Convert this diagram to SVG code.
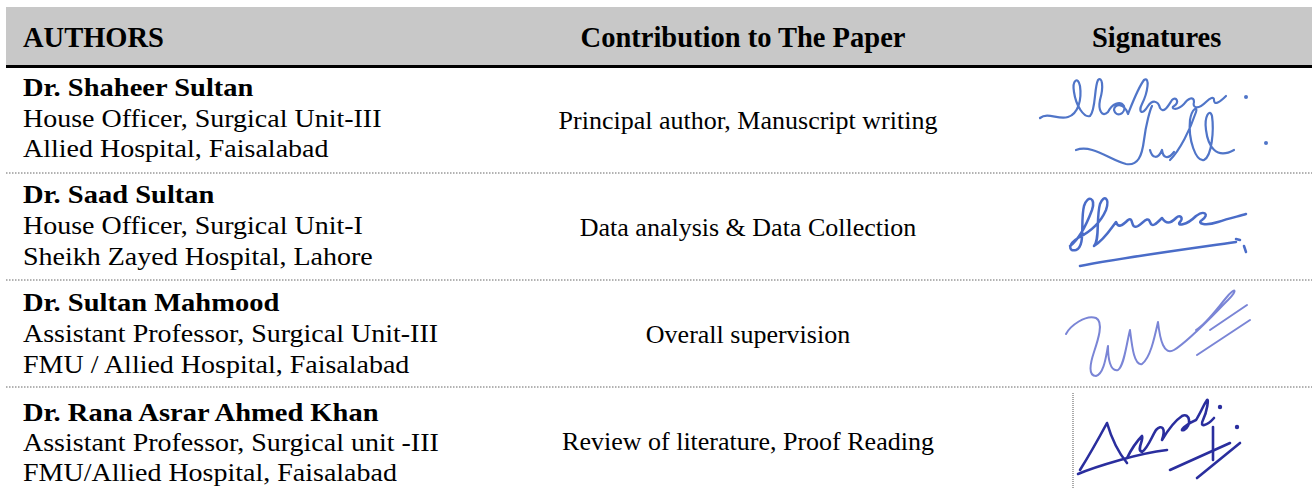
<svg xmlns="http://www.w3.org/2000/svg" width="1312" height="491" viewBox="0 0 1312 491">
<style>
.hd{font-family:"Liberation Serif","Times New Roman",serif;font-weight:bold;font-size:28.5px;fill:#000}
.nm{font-family:"Liberation Serif","Times New Roman",serif;font-weight:bold;font-size:28.5px;fill:#000}
.lt{font-family:"Liberation Serif","Times New Roman",serif;font-size:28px;fill:#000}
.md{font-family:"Liberation Serif","Times New Roman",serif;font-size:26px;fill:#000;text-anchor:middle}
.sep{stroke:#666;stroke-width:1;stroke-dasharray:1.5 1.5;fill:none}
.sig{fill:none;stroke-linecap:round;stroke-linejoin:round}
</style>
<rect width="1312" height="491" fill="#fff"/>
<g id="header">
<rect x="6" y="7" width="1306" height="58" fill="#c8c8c8"/>
<rect x="6" y="65" width="1306" height="3" fill="#000"/>
<text class="hd" x="23" y="47">AUTHORS</text>
<text class="hd" x="743" y="47" text-anchor="middle">Contribution to The Paper</text>
<text class="hd" x="1092" y="47">Signatures</text>
</g>
<g id="connectors">
<line class="sep" x1="6" y1="173" x2="1312" y2="173"/>
<line class="sep" x1="6" y1="280" x2="1312" y2="280"/>
<line class="sep" x1="6" y1="387" x2="1312" y2="387"/>
</g>
<g id="row1">
<g transform="translate(23 96) scale(1 0.9)"><text class="nm">Dr. Shaheer Sultan</text></g>
<g transform="translate(23 127) scale(1 0.9)"><text class="lt">House Officer, Surgical Unit-III</text></g>
<g transform="translate(23 157) scale(1 0.9)"><text class="lt">Allied Hospital, Faisalabad</text></g>
<text class="md" x="748" y="129">Principal author, Manuscript writing</text>
<g class="sig" stroke="#5075c8" stroke-width="2.2">
<path d="M1040,118 C1048,112 1058,120 1068,117 C1078,114 1082,100 1080,86 C1078,76 1072,80 1074,92 C1076,106 1084,118 1090,116 C1096,110 1094,88 1098,80 C1102,76 1104,86 1100,100 C1098,110 1102,118 1108,112 C1112,104 1120,100 1124,106 C1126,114 1116,118 1114,110 C1114,104 1124,102 1128,114 C1132,104 1138,88 1144,80 C1150,76 1148,92 1142,104 C1138,112 1142,116 1148,106 C1152,100 1158,100 1160,108 C1164,114 1168,106 1172,100 C1176,96 1180,102 1174,106 C1170,108 1176,112 1184,104 C1188,98 1194,96 1194,102 C1192,108 1198,110 1206,102 C1210,98 1214,96 1214,100 C1214,106 1220,102 1226,96"/>
<path d="M1076,150 C1092,144 1110,160 1126,164 C1138,166 1142,156 1144,140 C1146,124 1150,110 1152,106"/>
<path d="M1150,150 C1152,158 1158,160 1162,150 C1163,158 1168,160 1174,152"/>
<path d="M1170,160 C1180,150 1190,130 1196,112 C1198,106 1192,108 1190,120 C1188,140 1196,162 1204,160 C1212,156 1214,130 1212,116 C1210,108 1204,116 1206,130 C1208,146 1216,160 1234,150"/>
<circle cx="1246" cy="97" r="2" fill="#5075c8" stroke="none"/>
<circle cx="1266" cy="143" r="2" fill="#5075c8" stroke="none"/>
</g>
</g>
<g id="row2">
<g transform="translate(23 203) scale(1 0.9)"><text class="nm">Dr. Saad Sultan</text></g>
<g transform="translate(23 234) scale(1 0.9)"><text class="lt">House Officer, Surgical Unit-I</text></g>
<g transform="translate(23 265) scale(1 0.9)"><text class="lt">Sheikh Zayed Hospital, Lahore</text></g>
<text class="md" x="748" y="236">Data analysis &amp; Data Collection</text>
<g class="sig" stroke="#4a6cc8" stroke-width="2.5">
<path d="M1070,246 C1078,240 1086,226 1092,210 C1096,198 1088,194 1084,206 C1080,222 1086,246 1076,250 C1068,252 1068,244 1078,238 C1090,232 1100,224 1106,210 C1110,198 1104,194 1100,204 C1096,218 1100,240 1094,246 C1104,240 1110,230 1116,222 C1118,228 1122,226 1128,220 C1134,216 1130,230 1138,226 C1144,222 1148,216 1150,222 C1152,228 1156,224 1162,218 C1166,224 1170,224 1176,218 C1180,214 1184,218 1180,222 C1176,226 1186,226 1196,216 C1204,210 1210,214 1202,220 C1196,224 1206,226 1218,222 C1230,218 1240,216 1246,214"/>
<path d="M1080,266 C1120,258 1180,250 1236,242"/>
<path d="M1236,239 l4,1 M1244,246 l2,6"/>
</g>
</g>
<g id="row3">
<g transform="translate(23 311) scale(1 0.9)"><text class="nm">Dr. Sultan Mahmood</text></g>
<g transform="translate(23 342) scale(1 0.9)"><text class="lt">Assistant Professor, Surgical Unit-III</text></g>
<g transform="translate(23 373) scale(1 0.9)"><text class="lt">FMU / Allied Hospital, Faisalabad</text></g>
<text class="md" x="748" y="343">Overall supervision</text>
<g class="sig" stroke="#7a85d6" stroke-width="2">
<path d="M1066,334 C1070,326 1086,314 1096,318 C1104,322 1098,340 1094,352 C1090,364 1088,376 1096,376 C1104,374 1106,356 1108,346 C1108,358 1110,372 1118,370 C1124,366 1126,346 1130,330 C1132,346 1134,366 1142,364 C1150,358 1154,340 1158,322 C1160,340 1164,356 1174,350 C1190,340 1212,316 1228,300 C1238,290 1236,286 1226,298 C1216,310 1206,324 1196,330"/>
<path d="M1197,355 L1250,320"/>
<path d="M1210,330 L1247,305"/>
</g>
</g>
<g id="row4">
<g transform="translate(23 421) scale(1 0.9)"><text class="nm">Dr. Rana Asrar Ahmed Khan</text></g>
<g transform="translate(23 451) scale(1 0.9)"><text class="lt">Assistant Professor, Surgical unit -III</text></g>
<g transform="translate(23 481) scale(1 0.9)"><text class="lt">FMU/Allied Hospital, Faisalabad</text></g>
<text class="md" x="748" y="450">Review of literature, Proof Reading</text>
<line x1="1073" y1="393" x2="1073" y2="488" stroke="#555" stroke-width="1" stroke-dasharray="1 1"/>
<g class="sig" stroke="#2a2e9e" stroke-width="2.6">
<path d="M1080,470 C1090,454 1100,436 1107,423 C1112,440 1118,452 1127,463"/>
<path d="M1078,474 C1092,468 1106,464 1120,460 C1134,456 1150,452 1167,450"/>
<path d="M1127,458 C1132,448 1138,440 1142,436 C1144,440 1136,450 1142,452 C1148,448 1152,436 1156,430 C1162,424 1166,428 1162,440 C1168,430 1176,420 1182,416 C1190,412 1192,426 1184,430 C1178,432 1186,424 1196,420 C1200,414 1204,404 1207,400 C1209,398 1207,412 1203,420 C1199,428 1207,426 1214,418"/>
<path d="M1170,470 L1230,443"/>
<path d="M1197,478 L1240,443"/>
<path d="M1213,427 L1213,460"/>
<circle cx="1220" cy="407" r="2.2" fill="#2a2e9e" stroke="none"/>
<circle cx="1237" cy="427" r="2.2" fill="#2a2e9e" stroke="none"/>
</g>
</g>
</svg>
